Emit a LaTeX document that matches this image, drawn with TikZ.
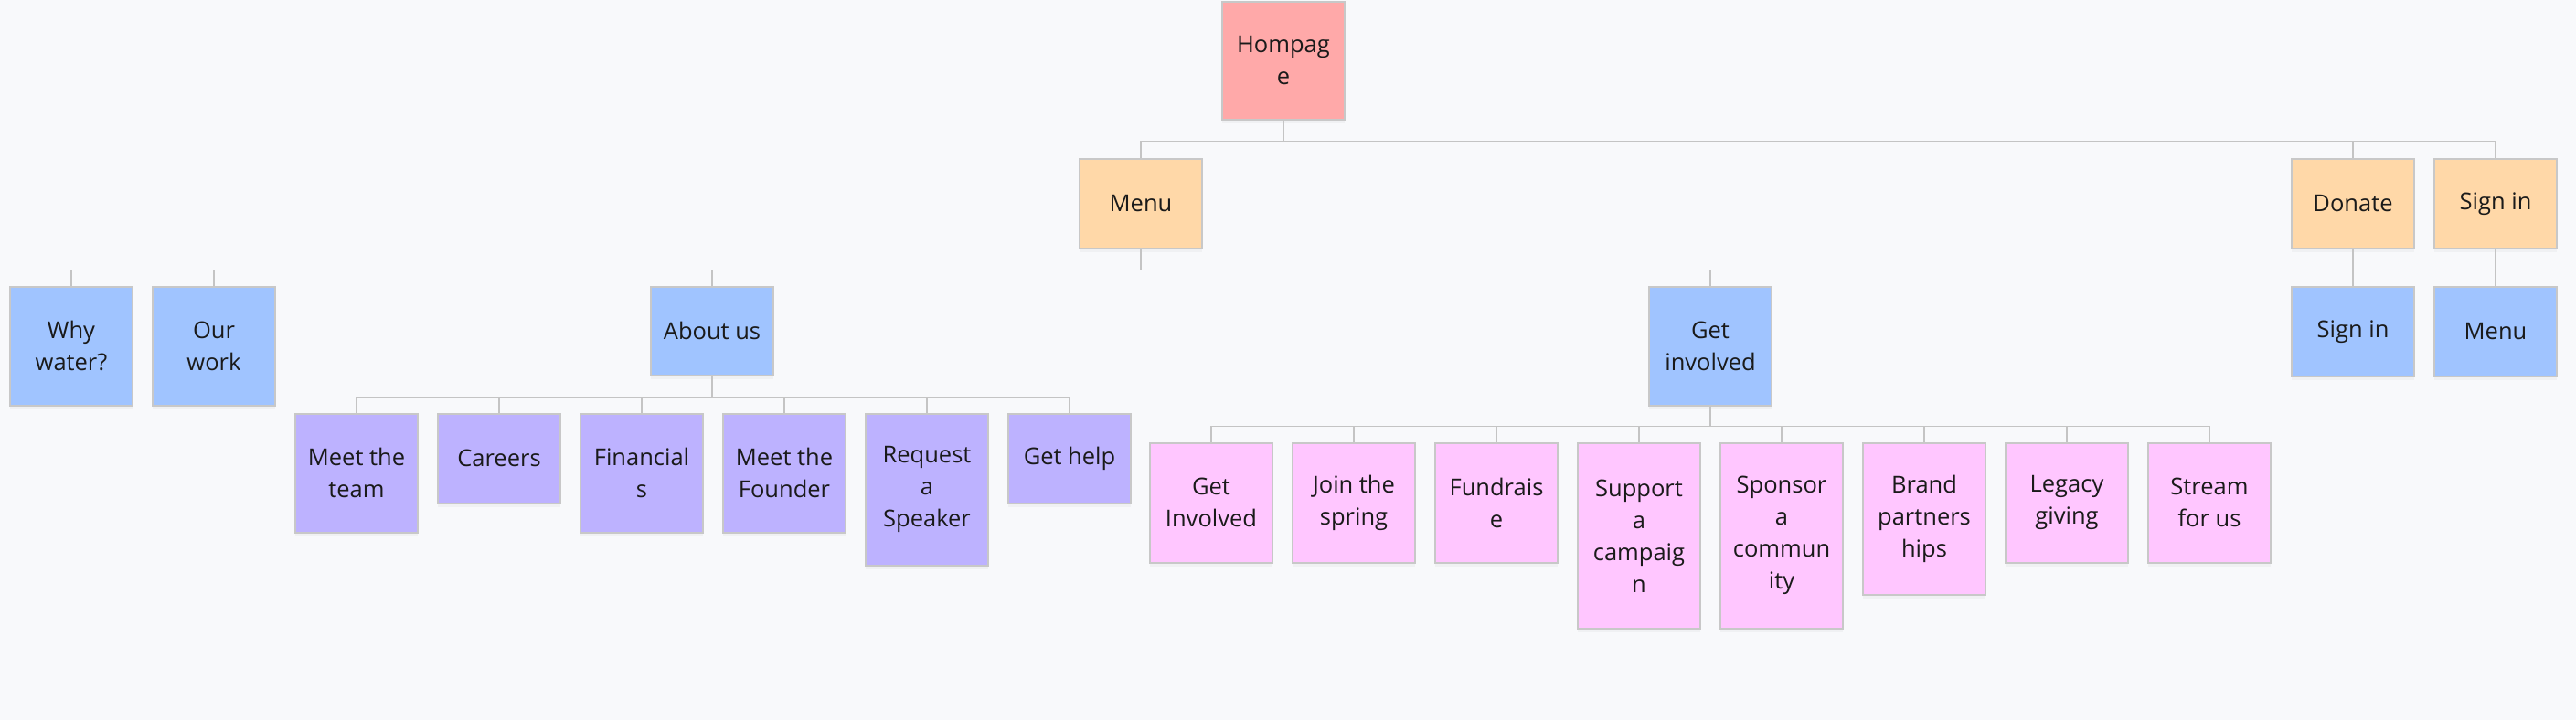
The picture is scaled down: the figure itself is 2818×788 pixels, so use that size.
\documentclass[tikz,border=0pt]{standalone}
\usepackage{fontspec}
\setmainfont{Open Sans}
\usetikzlibrary{shadows}
\definecolor{bgc}{HTML}{F8F9FB}
\definecolor{linec}{HTML}{C4C4C4}
\definecolor{borderc}{HTML}{C8C8C8}
\definecolor{redc}{HTML}{FFA9A9}
\definecolor{orangec}{HTML}{FFD8A8}
\definecolor{bluec}{HTML}{A0C4FF}
\definecolor{purplec}{HTML}{BDB2FF}
\definecolor{pinkc}{HTML}{FFC6FF}
\definecolor{textc}{HTML}{1A1A1A}
\tikzset{
  card/.style={draw=borderc, line width=1.6pt, anchor=north, minimum width=134pt,
    inner sep=0pt, align=center, text=textc,
    font=\fontsize{25.5}{35}\selectfont,
    drop shadow={opacity=0.06, shadow xshift=0pt, shadow yshift=-4pt}},
  redcard/.style={card, fill=redc},
  orcard/.style={card, fill=orangec},
  blcard/.style={card, fill=bluec},
  pucard/.style={card, fill=purplec},
  picard/.style={card, fill=pinkc},
  conn/.style={draw=linec, line width=1.6pt}
}
\begin{document}
\begin{tikzpicture}[x=1pt,y=-1pt]
\fill[bgc] (0,0) rectangle (2818,788);
\useasboundingbox (0,0) rectangle (2818,788);
% connectors first (behind cards)
\begin{scope}[every node/.style={}]
\end{scope}
% level 0
\node[redcard, minimum height=129pt] (hp) at (1404,1) {Hompag\\e};
% level 1
\node[orcard, minimum height=98pt] (menu) at (1248,173) {Menu};
\node[orcard, minimum height=98pt] (donate) at (2574,173) {Donate};
\node[orcard, minimum height=98pt] (signin) at (2730,173) {Sign in};
% level 2
\node[blcard, minimum height=130pt] (why) at (78,313) {Why\\water?};
\node[blcard, minimum height=130pt] (our) at (234,313) {Our\\work};
\node[blcard, minimum height=97pt] (about) at (779,313) {About us};
\node[blcard, minimum height=130pt] (getinv) at (1871,313) {Get\\involved};
\node[blcard, minimum height=98pt] (signin2) at (2574,313) {Sign in};
\node[blcard, minimum height=98pt] (menu2) at (2730,313) {Menu};
% about us children
\node[pucard, minimum height=130pt] (team) at (390,452) {Meet the\\team};
\node[pucard, minimum height=98pt] (careers) at (546,452) {Careers};
\node[pucard, minimum height=130pt] (fin) at (702,452) {Financial\\s};
\node[pucard, minimum height=130pt] (founder) at (858,452) {Meet the\\Founder};
\node[pucard, minimum height=166pt] (speaker) at (1014,452) {Request\\a\\Speaker};
\node[pucard, minimum height=98pt] (help) at (1170,452) {Get help};
% get involved children
\node[picard, minimum height=131pt] (g1) at (1325,484) {Get\\Involved};
\node[picard, minimum height=131pt] (g2) at (1481,484) {Join the\\spring};
\node[picard, minimum height=131pt] (g3) at (1637,484) {Fundrais\\e};
\node[picard, minimum height=203pt] (g4) at (1793,484) {Support\\a\\campaig\\n};
\node[picard, minimum height=203pt] (g5) at (1949,484) {Sponsor\\a\\commun\\ity};
\node[picard, minimum height=166pt] (g6) at (2105,484) {Brand\\partners\\hips};
\node[picard, minimum height=131pt] (g7) at (2261,484) {Legacy\\giving};
\node[picard, minimum height=131pt] (g8) at (2417,484) {Stream\\for us};
% connectors
\foreach \c in {menu,donate,signin}
  \draw[conn] (hp.south) -- ++(0,23) -| (\c.north);
\foreach \c in {why,our,about,getinv}
  \draw[conn] (menu.south) -- ++(0,23) -| (\c.north);
\draw[conn] (donate.south) -- (signin2.north);
\draw[conn] (signin.south) -- (menu2.north);
\foreach \c in {team,careers,fin,founder,speaker,help}
  \draw[conn] (about.south) -- ++(0,23) -| (\c.north);
\foreach \c in {g1,g2,g3,g4,g5,g6,g7,g8}
  \draw[conn] (getinv.south) -- ++(0,22) -| (\c.north);
\end{tikzpicture}
\end{document}
